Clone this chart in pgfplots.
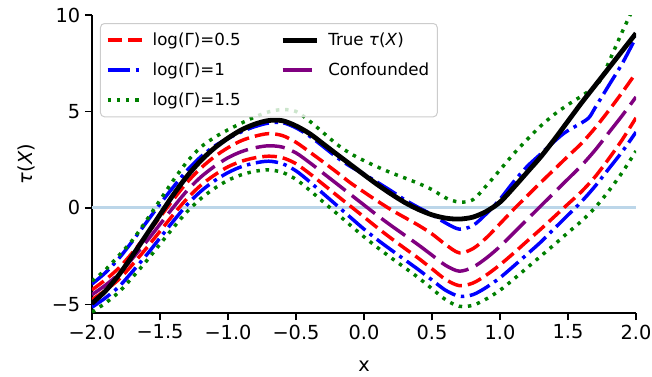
\documentclass[border=0pt]{standalone}
\usepackage{pgfplots}
\pgfplotsset{compat=1.18}
\usepackage{fontspec}
\setmainfont{DejaVu Sans}
\definecolor{zeroline}{RGB}{188,214,233}
\definecolor{mgreen}{RGB}{0,128,0}
\definecolor{mpurple}{RGB}{128,0,128}
\definecolor{legframe}{RGB}{204,204,204}
\pgfplotsset{
 gr05/.style={red, line width=2.6pt, dash pattern=on 11pt off 4.5pt},
 gr1/.style={blue, line width=2.6pt, dash pattern=on 16.8pt off 4.2pt on 2.6pt off 4.2pt},
 gr15/.style={mgreen, line width=2.6pt, dash pattern=on 2.6pt off 4.3pt},
 truestyle/.style={black, line width=3.6pt},
 confstyle/.style={mpurple, line width=2.6pt, dash pattern=on 22pt off 6pt},
}
\begin{document}
\begin{tikzpicture}
\useasboundingbox (-69pt,-47.25pt) rectangle (420pt,234.75pt);
\begin{axis}[
  at={(0,0)}, anchor=south west,
  scale only axis, width=408pt, height=223.5pt,
  xmin=-2, xmax=2, ymin=-5.45, ymax=10,
  axis x line*=bottom, axis y line*=left,
  axis line style={-, line width=1.1pt, black},
  tick align=outside, major tick length=5.25pt,
  tick style={line width=1.1pt, black},
  xtick={-2,-1.5,-1,-0.5,0,0.5,1,1.5,2},
  xticklabels={−2.0,−1.5,−1.0,−0.5,0.0,0.5,1.0,1.5,2.0},
  ytick={-5,0,5,10}, yticklabels={−5,0,5,10},
  ticklabel style={font=\fontsize{14.5}{17}\selectfont},
  xlabel={x}, ylabel={\textit{τ}(\textit{X})},
  label style={font=\fontsize{14.5}{17}\selectfont},
  xlabel style={yshift=-9pt},
  ylabel style={yshift=6pt},
  legend columns=2,
  legend cell align=left,
  legend style={
    at={(0,1)}, anchor=north west, xshift=6pt, yshift=-6pt,
    draw=legframe, line width=0.75pt, fill=white, fill opacity=0.8,
    text opacity=1, draw opacity=1,
    rounded corners=3pt,
    font=\fontsize{12.5}{15}\selectfont,
    inner xsep=4pt, inner ysep=5pt,
    row sep=7.5pt,
    /tikz/every odd column/.append style={column sep=4.5pt},
    /tikz/every even column/.append style={column sep=27.5pt},
  },
  legend image code/.code={\draw[#1] (0pt,0pt) -- (26pt,0pt);},
  every axis plot/.append style={line join=round},
]
\addplot[zeroline, line width=2.3pt, forget plot] coordinates {(-2,0) (2,0)};

% log(Gamma)=0.5 upper / lower
\addplot[gr05, smooth, forget plot] coordinates {
(-2.0,-4.25) (-1.9,-3.72) (-1.8,-3.1) (-1.7,-2.3) (-1.6,-1.41) (-1.5,-0.48) (-1.4,0.45) (-1.3,1.33) (-1.2,2.06) (-1.1,2.65) (-1.0,3.12) (-0.9,3.49) (-0.8,3.72) (-0.7,3.85) (-0.6,3.75) (-0.5,3.4) (-0.4,2.9) (-0.3,2.38) (-0.2,1.85) (-0.1,1.3) (0.0,0.82) (0.1,0.35) (0.2,-0.1) (0.3,-0.5) (0.4,-0.9) (0.5,-1.35) (0.6,-1.9) (0.7,-2.33) (0.8,-2.12) (0.9,-1.55) (1.0,-0.82) (1.1,-0.08) (1.2,0.62) (1.3,1.32) (1.4,2.0) (1.5,2.68) (1.6,3.35) (1.7,4.15) (1.8,5.05) (1.9,6.0) (2.0,7.0)};
\addplot[gr05, smooth, forget plot] coordinates {
(-2.0,-4.75) (-1.9,-4.27) (-1.8,-3.69) (-1.7,-2.92) (-1.6,-2.09) (-1.5,-1.21) (-1.4,-0.33) (-1.3,0.49) (-1.2,1.17) (-1.1,1.70) (-1.0,2.13) (-0.9,2.42) (-0.8,2.60) (-0.7,2.68) (-0.6,2.60) (-0.5,2.29) (-0.4,1.78) (-0.3,1.22) (-0.2,0.65) (-0.1,0.09) (0.0,-0.47) (0.1,-1.04) (0.2,-1.58) (0.3,-2.10) (0.4,-2.61) (0.5,-3.16) (0.6,-3.71) (0.7,-4.03) (0.8,-3.90) (0.9,-3.48) (1.0,-2.95) (1.1,-2.35) (1.2,-1.72) (1.3,-1.1) (1.4,-0.45) (1.5,0.2) (1.6,0.85) (1.7,1.62) (1.8,2.55) (1.9,3.55) (2.0,4.67)};

% log(Gamma)=1 upper / lower
\addplot[gr1, smooth, forget plot] coordinates {
(-2.0,-3.95) (-1.9,-3.35) (-1.8,-2.6) (-1.7,-1.7) (-1.6,-0.75) (-1.5,0.2) (-1.4,1.1) (-1.3,1.95) (-1.2,2.65) (-1.1,3.2) (-1.0,3.6) (-0.9,3.95) (-0.8,4.22) (-0.7,4.4) (-0.6,4.42) (-0.5,4.15) (-0.4,3.72) (-0.3,3.18) (-0.2,2.62) (-0.1,2.15) (0.0,1.75) (0.1,1.32) (0.2,0.88) (0.3,0.42) (0.4,0.02) (0.5,-0.35) (0.6,-0.78) (0.7,-1.1) (0.8,-0.92) (0.9,-0.3) (1.0,0.45) (1.1,1.35) (1.2,2.15) (1.3,2.8) (1.37,3.26) (1.47,3.87) (1.56,4.25) (1.65,4.65) (1.7,5.2) (1.8,6.35) (1.9,7.5) (2.0,8.85)};
\addplot[gr1, smooth, forget plot] coordinates {
(-2.0,-5.15) (-1.9,-4.66) (-1.8,-4.07) (-1.7,-3.28) (-1.6,-2.45) (-1.5,-1.56) (-1.4,-0.67) (-1.3,0.17) (-1.2,0.86) (-1.1,1.40) (-1.0,1.83) (-0.9,2.14) (-0.8,2.33) (-0.7,2.42) (-0.6,2.29) (-0.5,1.92) (-0.4,1.36) (-0.3,0.74) (-0.2,0.13) (-0.1,-0.49) (0.0,-1.10) (0.1,-1.66) (0.2,-2.18) (0.3,-2.69) (0.4,-3.20) (0.5,-3.74) (0.6,-4.27) (0.7,-4.58) (0.8,-4.5) (0.9,-4.12) (1.0,-3.62) (1.1,-3.02) (1.2,-2.4) (1.3,-1.77) (1.4,-1.07) (1.5,-0.37) (1.6,0.33) (1.7,1.13) (1.8,2.03) (1.9,2.93) (2.0,3.93)};

% log(Gamma)=1.5 upper / lower
\addplot[gr15, smooth, forget plot] coordinates {
(-2.0,-3.8) (-1.9,-3.2) (-1.8,-2.45) (-1.7,-1.65) (-1.6,-0.65) (-1.5,0.4) (-1.4,1.45) (-1.3,2.4) (-1.2,3.15) (-1.1,3.65) (-1.0,4.05) (-0.9,4.4) (-0.8,4.72) (-0.7,4.98) (-0.6,5.1) (-0.5,5.0) (-0.4,4.5) (-0.3,3.9) (-0.2,3.3) (-0.1,2.82) (0.0,2.45) (0.1,2.12) (0.2,1.82) (0.3,1.55) (0.4,1.27) (0.5,0.95) (0.6,0.52) (0.7,0.3) (0.8,0.42) (0.9,1.15) (1.0,1.97) (1.1,2.8) (1.2,3.55) (1.3,4.25) (1.4,4.85) (1.5,5.35) (1.6,5.8) (1.7,6.3) (1.75,6.75) (1.8,7.55) (1.85,8.35) (1.9,9.15) (1.95,9.9) (2.0,10.65)};
\addplot[gr15, smooth, forget plot] coordinates {
(-2.0,-5.4) (-1.9,-4.93) (-1.8,-4.35) (-1.7,-3.58) (-1.6,-2.76) (-1.5,-1.88) (-1.4,-1.01) (-1.3,-0.19) (-1.2,0.48) (-1.1,1.01) (-1.0,1.43) (-0.9,1.72) (-0.8,1.90) (-0.7,1.97) (-0.6,1.84) (-0.5,1.48) (-0.4,0.92) (-0.3,0.31) (-0.2,-0.29) (-0.1,-0.9) (0.0,-1.5) (0.1,-2.06) (0.2,-2.59) (0.3,-3.10) (0.4,-3.62) (0.5,-4.19) (0.6,-4.76) (0.7,-5.10) (0.8,-5.05) (0.9,-4.72) (1.0,-4.27) (1.1,-3.7) (1.2,-3.1) (1.3,-2.5) (1.4,-1.9) (1.5,-1.28) (1.6,-0.68) (1.7,0.02) (1.8,0.88) (1.9,1.85) (2.0,2.95)};

% Confounded
\addplot[confstyle, smooth, forget plot] coordinates {
(-2.0,-4.5) (-1.9,-4.0) (-1.8,-3.4) (-1.7,-2.6) (-1.6,-1.75) (-1.5,-0.85) (-1.4,0.05) (-1.3,0.9) (-1.2,1.6) (-1.1,2.15) (-1.0,2.6) (-0.9,2.92) (-0.8,3.12) (-0.7,3.22) (-0.6,3.15) (-0.5,2.85) (-0.4,2.35) (-0.3,1.8) (-0.2,1.25) (-0.1,0.7) (0.0,0.15) (0.1,-0.4) (0.2,-0.92) (0.3,-1.42) (0.4,-1.92) (0.5,-2.45) (0.6,-2.98) (0.7,-3.28) (0.8,-3.08) (0.9,-2.6) (1.0,-2.0) (1.1,-1.3) (1.2,-0.6) (1.3,0.1) (1.4,0.8) (1.5,1.5) (1.6,2.2) (1.7,3.0) (1.8,3.9) (1.9,4.8) (2.0,5.75)};

% True tau(X)
\addplot[truestyle, smooth, forget plot] coordinates {
(-2.0,-4.95) (-1.9,-4.3) (-1.8,-3.45) (-1.7,-2.45) (-1.6,-1.4) (-1.5,-0.35) (-1.4,0.7) (-1.3,1.65) (-1.2,2.45) (-1.1,3.1) (-1.0,3.62) (-0.9,4.05) (-0.8,4.35) (-0.7,4.53) (-0.6,4.52) (-0.5,4.25) (-0.4,3.85) (-0.3,3.32) (-0.2,2.78) (-0.1,2.25) (0.0,1.72) (0.1,1.2) (0.2,0.72) (0.3,0.28) (0.4,-0.08) (0.5,-0.36) (0.6,-0.53) (0.7,-0.58) (0.8,-0.48) (0.9,-0.18) (1.0,0.3) (1.1,1.05) (1.2,1.85) (1.3,2.65) (1.4,3.55) (1.5,4.5) (1.6,5.45) (1.7,6.35) (1.8,7.25) (1.9,8.15) (2.0,9.05)};

\addlegendimage{gr05}\addlegendentry{log(Γ)=0.5}
\addlegendimage{truestyle}\addlegendentry{True \textit{τ}(\textit{X})}
\addlegendimage{gr1}\addlegendentry{log(Γ)=1}
\addlegendimage{confstyle}\addlegendentry{Confounded}
\addlegendimage{gr15}\addlegendentry{log(Γ)=1.5}
\end{axis}
\end{tikzpicture}
\end{document}
